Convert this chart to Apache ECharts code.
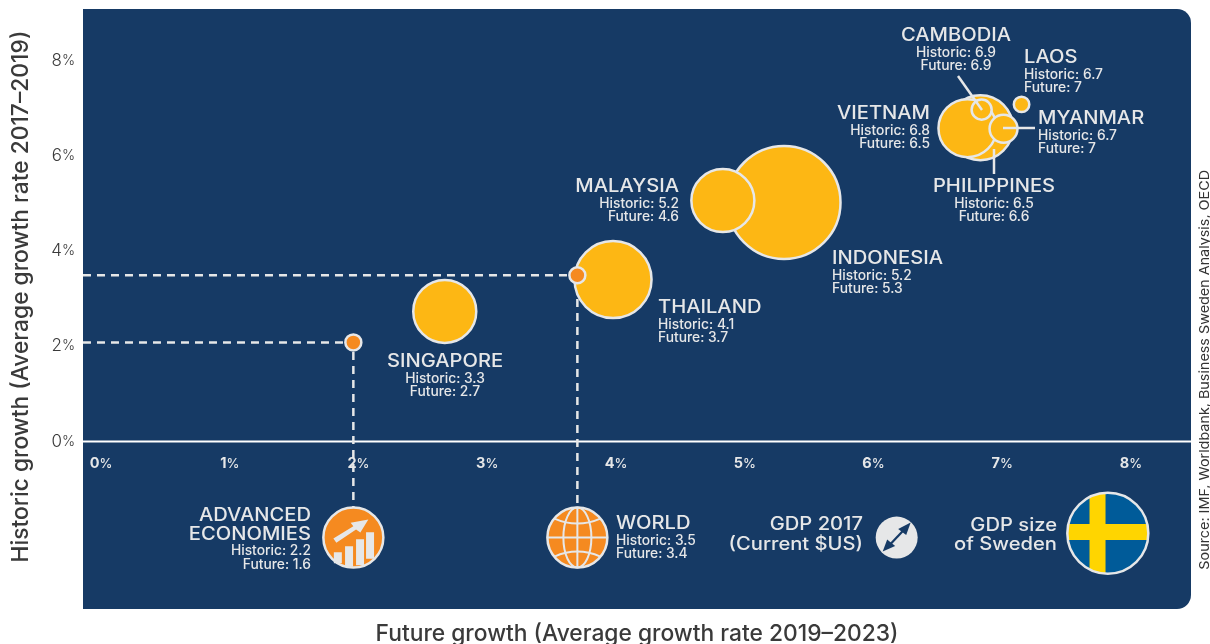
<!DOCTYPE html>
<html>
<head>
<meta charset="utf-8">
<title>Historic and future growth</title>
<style>
html, body { margin: 0; padding: 0; background: #fff; }
#main { width: 1210px; height: 644px; }
</style>
<script src="https://cdn.jsdelivr.net/npm/echarts@6/dist/echarts.min.js"></script>
</head>
<body>
<div id="main"></div>
<script>
// values
var countries = ['Indonesia', 'Malaysia', 'Thailand', 'Singapore', 'Philippines', 'Vietnam', 'Myanmar', 'Cambodia', 'Laos'];
var bubbleX = [5.305, 4.83, 3.977, 2.67, 6.83, 6.73, 7.01, 6.84, 7.15];
var bubbleY = [5.02, 5.06, 3.40, 2.73, 6.59, 6.58, 6.57, 6.97, 7.08];
var gdpBillions = [1016, 316, 472, 316, 336, 268, 62, 32, 19];

var benchmarks = ['Advanced economies', 'World'];
var benchmarkX = [1.96, 3.70];
var benchmarkY = [2.08, 3.49];

// printed captions, they do not always agree with the drawn positions
var captionNames = ['CAMBODIA', 'LAOS', 'VIETNAM', 'MYANMAR', 'PHILIPPINES', 'MALAYSIA', 'INDONESIA', 'THAILAND', 'SINGAPORE', 'WORLD'];
var captionHistoric = ['6.9', '6.7', '6.8', '6.7', '6.5', '5.2', '5.2', '4.1', '3.3', '3.5'];
var captionFuture = ['6.9', '7', '6.5', '7', '6.6', '4.6', '5.3', '3.7', '2.7', '3.4'];

var captionAt = [
    [956, 35, 'center'], [1024, 57, 'left'], [930, 113, 'right'], [1038, 118, 'left'], [994, 186, 'center'],
    [679, 186, 'right'], [832, 258, 'left'], [658, 307, 'left'], [445, 361, 'center'], [616, 523, 'left']
];

var FONT = 'Inter, "Noto Sans", sans-serif';
var NAVY = '#163A65';
var PALE = '#E6E7E8';
var YELLOW = '#FDB714';
var ORANGE = '#F58A20';
var WIDEN = 1.12;

function txt(x, y, text, size, align, weight, fill, widen) {
    return {
        type: 'text', x: x, y: y + 0.8, z: 20, silent: true, scaleX: widen || 1,
        style: {
            text: text, fill: fill || PALE, align: align, verticalAlign: 'middle',
            font: (weight || 500) + ' ' + size + 'px ' + FONT
        }
    };
}

function title(x, y, text) {
    return txt(x, y, text, 18, 'right', 500, PALE, WIDEN);
}

function leader(x1, y1, x2, y2) {
    return {
        type: 'line', z: 20, silent: true,
        shape: {x1: x1, y1: y1, x2: x2, y2: y2},
        style: {stroke: PALE, lineWidth: 2.5}
    };
}

var graphics = [{
    type: 'rect', z: -10, silent: true,
    shape: {x: 83, y: 9, width: 1108, height: 600, r: [0, 14, 14, 0]},
    style: {fill: NAVY}
}];

captionNames.forEach(function (name, i) {
    var p = captionAt[i];
    graphics.push(txt(p[0], p[1], name, 18, p[2], 500, PALE, WIDEN));
    graphics.push(txt(p[0], p[1] + 17, 'Historic: ' + captionHistoric[i], 13.8, p[2]));
    graphics.push(txt(p[0], p[1] + 30, 'Future: ' + captionFuture[i], 13.8, p[2]));
});

graphics.push(title(311, 515, 'ADVANCED'));
graphics.push(title(311, 534, 'ECONOMIES'));
graphics.push(txt(311, 550, 'Historic: 2.2', 13.8, 'right'));
graphics.push(txt(311, 564, 'Future: 1.6', 13.8, 'right'));
graphics.push(title(863, 524, 'GDP 2017'));
graphics.push(title(863, 544, '(Current $US)'));
graphics.push(title(1057, 525, 'GDP size'));
graphics.push(title(1057, 544, 'of Sweden'));
graphics.push(leader(958, 76, 982, 110));
graphics.push(leader(1003, 128, 1035, 128));
graphics.push(leader(994, 149, 994, 174));

var source = txt(1205, 369, 'Source: IMF, Worldbank, Business Sweden Analysis, OECD', 13.3, 'center', 400, '#333333', 1.08);
source.rotation = Math.PI / 2;
graphics.push(source);

var chart = echarts.init(document.getElementById('main'), null, {renderer: 'canvas'});

function bar(x, y, w, h) {
    return {type: 'rect', shape: {x: x, y: y, width: w, height: h}, style: {fill: PALE}};
}

function ring(r, lw) {
    return {type: 'circle', shape: {cx: 0, cy: 0, r: r}, style: {fill: 'none', stroke: PALE, lineWidth: lw}};
}

function curve(x1, y1, cx, cy, x2, y2) {
    return {
        type: 'bezierCurve',
        shape: {x1: x1, y1: y1, cpx1: cx, cpy1: cy, x2: x2, y2: y2},
        style: {fill: 'none', stroke: PALE, lineWidth: 2}
    };
}

var iconDrawers = [
    function () {  // advanced economies
        return [
            {type: 'circle', shape: {cx: 0, cy: 0, r: 30}, style: {fill: ORANGE}},
            bar(-19.5, 14.7, 8, 11), bar(-8.3, 8.7, 8, 20.5), bar(2.7, 1.7, 8, 26), bar(12.7, -5.3, 8, 26.5),
            {type: 'polygon', shape: {points: [[-20, 1], [0, -11.3], [-2.7, -14.7], [15, -18], [7, -5], [2.7, -8], [-17, 5.3]]}, style: {fill: PALE}},
            ring(30, 2.5)
        ];
    },
    function () {  // world
        return [
            {type: 'circle', shape: {cx: 0, cy: 0, r: 30}, style: {fill: ORANGE}},
            {type: 'ellipse', shape: {cx: 0, cy: 0, rx: 14, ry: 30}, style: {fill: 'none', stroke: PALE, lineWidth: 2}},
            {type: 'line', shape: {x1: 0, y1: -30, x2: 0, y2: 30}, style: {stroke: PALE, lineWidth: 2}},
            {type: 'line', shape: {x1: -30, y1: 0, x2: 30, y2: 0}, style: {stroke: PALE, lineWidth: 2}},
            curve(-23, -19, 0, -9, 23, -19),
            curve(-23, 19, 0, 9, 23, 19),
            ring(30, 2.5)
        ];
    },
    function () {  // gdp size key
        return [
            {type: 'circle', shape: {cx: 0, cy: 0, r: 21}, style: {fill: PALE}},
            {type: 'line', shape: {x1: -9, y1: 9.5, x2: 9, y2: -9.5}, style: {stroke: NAVY, lineWidth: 2.2}},
            {type: 'polygon', shape: {points: [[14, -15], [9.5, -2.5], [1.5, -8.5]]}, style: {fill: NAVY}},
            {type: 'polygon', shape: {points: [[-14, 14], [-9.5, 2], [-1.5, 8.5]]}, style: {fill: NAVY}}
        ];
    },
    function () {  // sweden
        var clip = {type: 'circle', shape: {cx: 0, cy: 0, r: 40.5}};
        return [
            {type: 'circle', shape: {cx: 0, cy: 0, r: 40.5}, style: {fill: '#005B99'}},
            {type: 'rect', clipPath: clip, shape: {x: -18.3, y: -42, width: 16, height: 84}, style: {fill: '#FFD500'}},
            {type: 'rect', clipPath: clip, shape: {x: -42, y: -9.3, width: 84, height: 16}, style: {fill: '#FFD500'}},
            ring(40.5, 2.5)
        ];
    }
];

var iconX = [1.96, 3.70, 6.18, 7.82];
var iconY = [-2.02, -2.02, -2.02, -1.93];

function zipped(xs, ys) {
    return xs.map(function (x, i) { return [x, ys[i]]; });
}

var option = {
    animation: false,
    tooltip: {show: false},
    // the x axis runs one step past the panel on both sides so the guides can reach its edges
    grid: {left: -27.75, top: 60.6, width: 1287.5, height: 476, containLabel: false, outerBoundsMode: 'none'},
    graphic: {elements: graphics},
    xAxis: {
        type: 'value', min: -1, max: 9, interval: 1, offset: -95.2,
        name: 'Future growth (Average growth rate 2019–2023)',
        nameLocation: 'middle', nameGap: 181,
        nameTextStyle: {color: '#3A3A3A', fontSize: 22.8, fontWeight: 500, fontFamily: FONT, padding: [0, 0, 0, 42]},
        axisLine: {show: false, onZero: false},
        axisTick: {show: false},
        splitLine: {show: false},
        axisLabel: {
            color: PALE, fontSize: 14, fontWeight: 700, fontFamily: FONT, margin: 15,
            formatter: function (v) { return v < 0 || v > 8 ? '' : '{b|' + v + '}{p|%}'; },
            rich: {
                b: {color: PALE, fontSize: 14.5, fontWeight: 700, fontFamily: FONT},
                p: {color: PALE, fontSize: 13, fontWeight: 500, fontFamily: FONT}
            }
        }
    },
    yAxis: {
        type: 'value', min: -2, max: 8, interval: 2, offset: -128.75,
        name: 'Historic growth (Average growth rate 2017–2019)',
        nameLocation: 'middle', nameGap: 68,
        nameTextStyle: {color: '#3A3A3A', fontSize: 22.8, fontWeight: 500, fontFamily: FONT, padding: [0, 0, 0, 4]},
        axisLine: {show: false, onZero: false},
        axisTick: {show: false},
        splitLine: {show: false},
        axisLabel: {
            color: '#3A3A3A', fontSize: 15, fontWeight: 300, fontFamily: FONT, margin: 26,
            formatter: function (v) { return v < 0 ? '' : '{b|' + v + '}{p|%}'; },
            rich: {
                b: {color: '#3A3A3A', fontSize: 17, fontWeight: 300, fontFamily: FONT},
                p: {color: '#3A3A3A', fontSize: 14, fontWeight: 300, fontFamily: FONT}
            }
        }
    },
    series: [
        {
            name: 'axis', type: 'line', z: 1, clip: false, silent: true, symbol: 'none',
            data: [[-0.14, 0], [8.466, 0]],
            lineStyle: {color: '#FFFFFF', width: 2}
        },
        {
            name: 'advanced guide', type: 'line', z: 1, clip: false, silent: true, symbol: 'none',
            data: [[-0.14, benchmarkY[0]], [benchmarkX[0], benchmarkY[0]], [benchmarkX[0], -1.39]],
            lineStyle: {color: PALE, width: 2.5, type: [8, 6]}
        },
        {
            name: 'world guide', type: 'line', z: 1, clip: false, silent: true, symbol: 'none',
            data: [[-0.14, benchmarkY[1]], [benchmarkX[1], benchmarkY[1]], [benchmarkX[1], -1.39]],
            lineStyle: {color: PALE, width: 2.5, type: [8, 6]}
        },
        {
            name: 'GDP', type: 'scatter', z: 2, clip: false, silent: true,
            data: zipped(bubbleX, bubbleY).map(function (p, i) {
                return {name: countries[i], value: p.concat(gdpBillions[i])};
            }),
            symbolSize: function (v) { return 113 * Math.sqrt(v[2] / gdpBillions[0]); },
            itemStyle: {color: YELLOW, borderColor: PALE, borderWidth: 2.5, opacity: 1}
        },
        {
            name: 'benchmarks', type: 'scatter', z: 3, clip: false, silent: true, symbolSize: 16,
            data: zipped(benchmarkX, benchmarkY),
            itemStyle: {color: ORANGE, borderColor: PALE, borderWidth: 2.5, opacity: 1}
        },
        {
            name: 'icons', type: 'custom', z: 3, clip: false, silent: true,
            data: zipped(iconX, iconY),
            renderItem: function (params, api) {
                var p = api.coord([api.value(0), api.value(1)]);
                return {type: 'group', x: p[0], y: p[1], children: iconDrawers[params.dataIndex]()};
            }
        }
    ]
};

chart.setOption(option);
</script>
</body>
</html>
